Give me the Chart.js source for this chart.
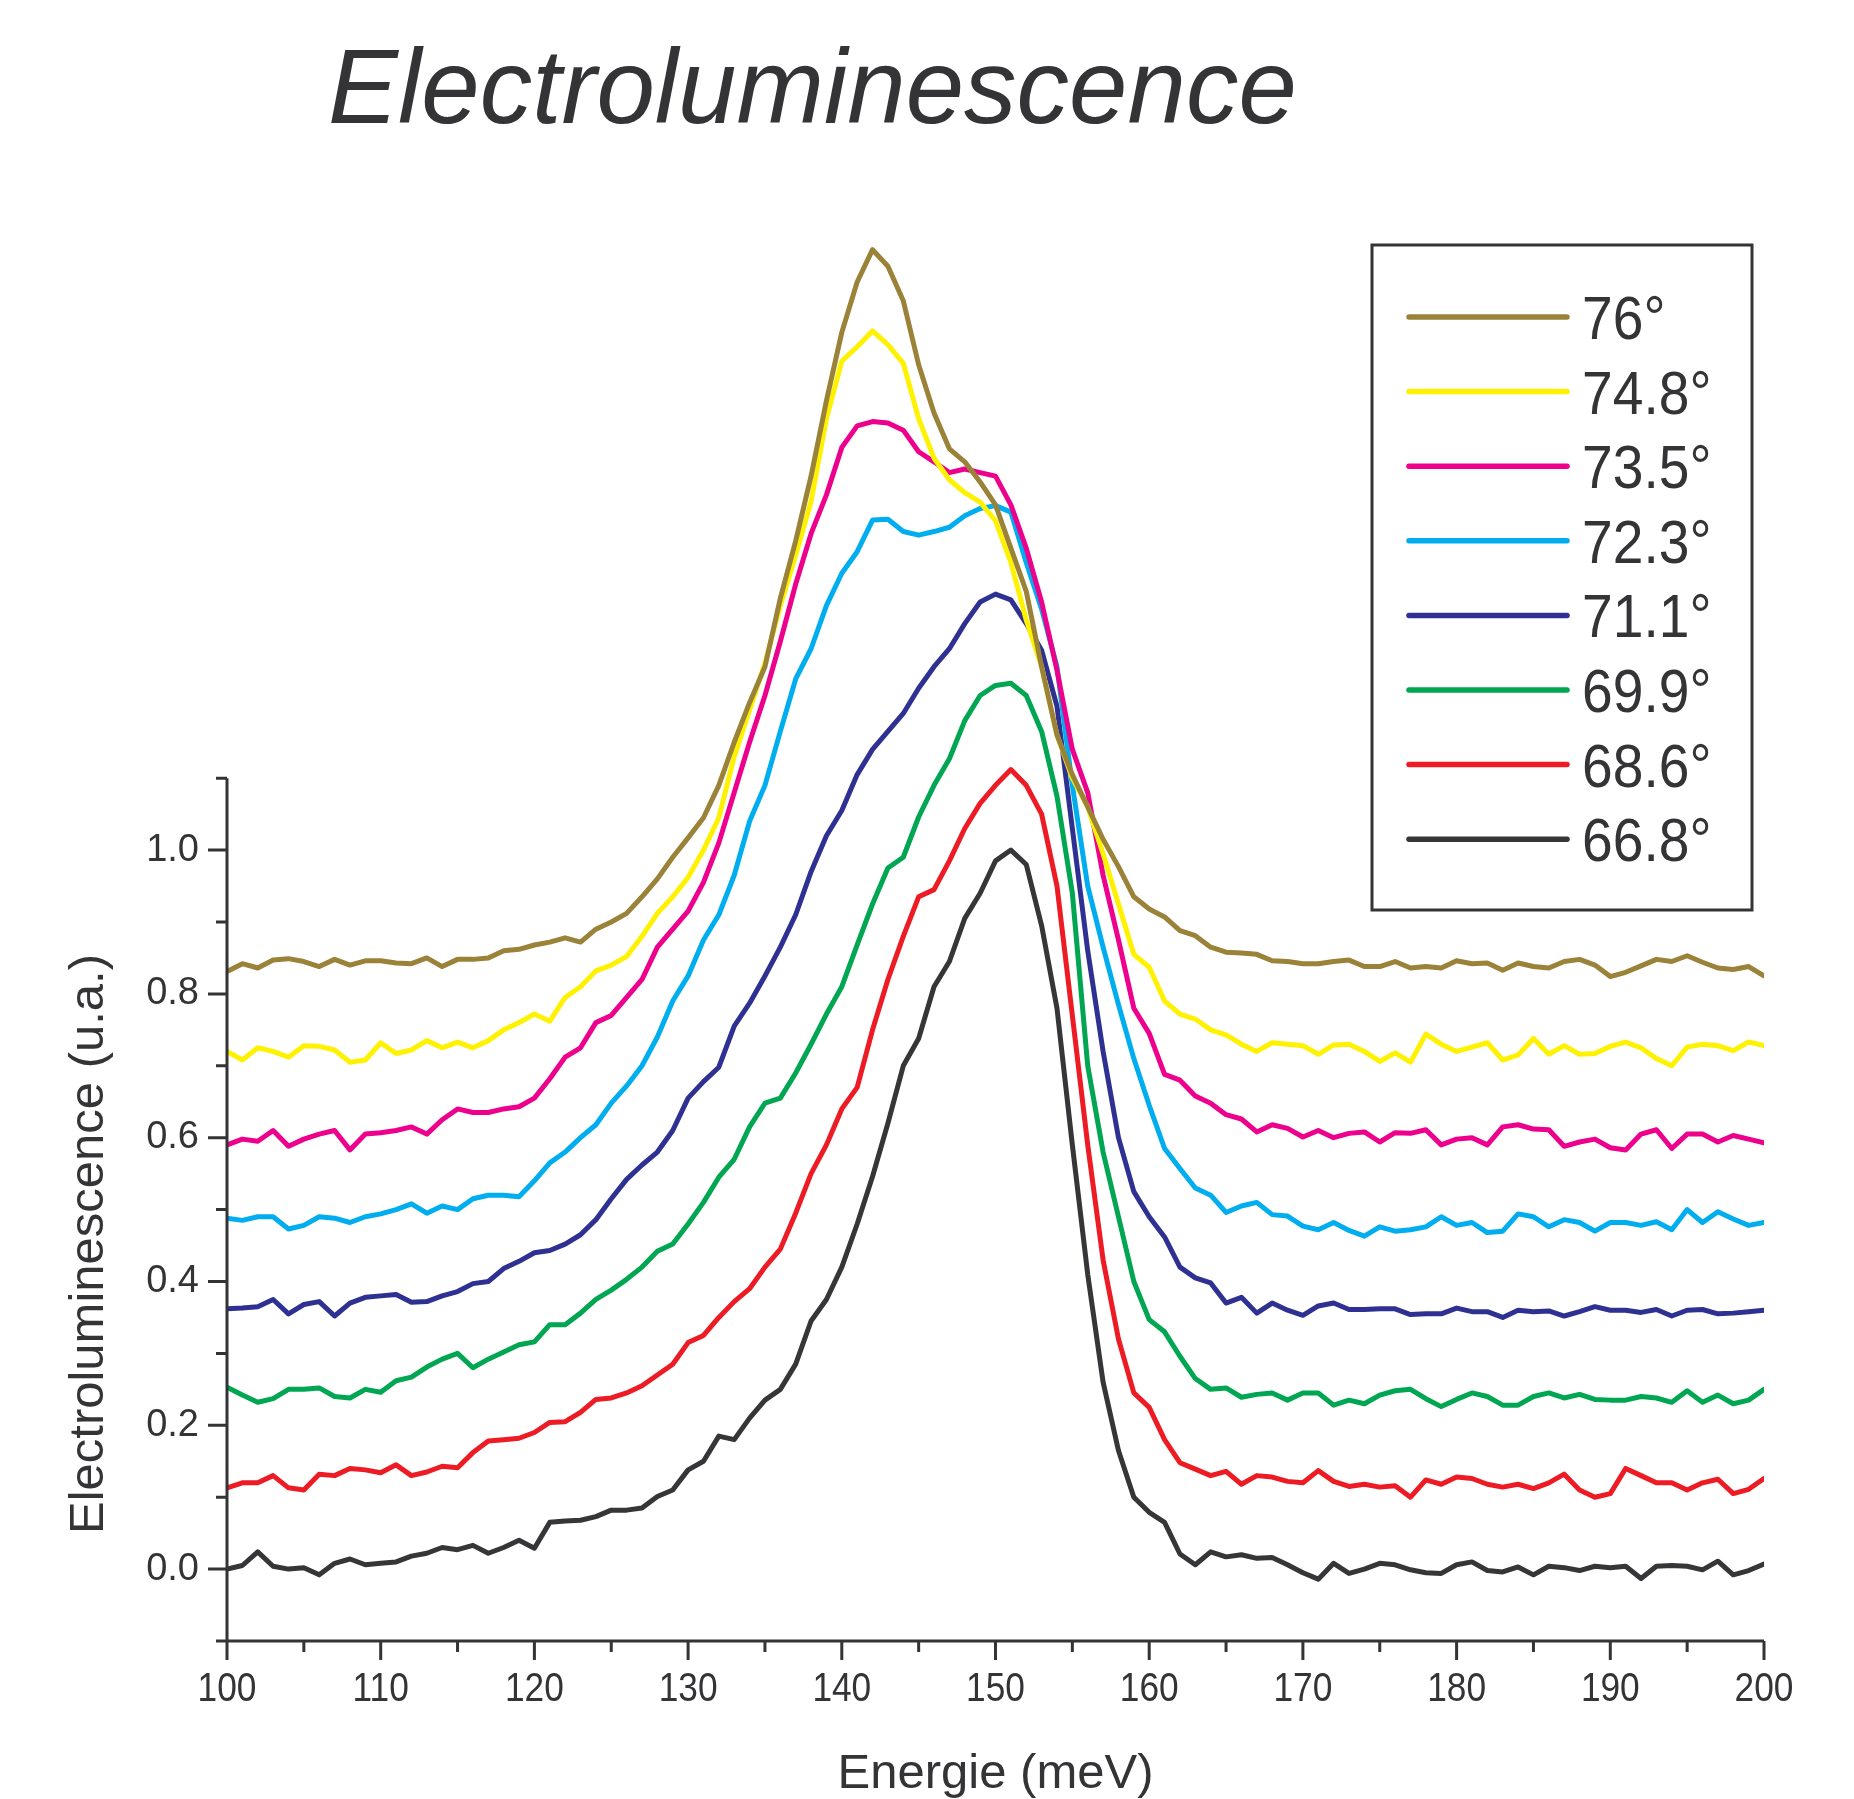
<!DOCTYPE html>
<html>
<head>
<meta charset="utf-8">
<title>Electroluminescence</title>
<script src="https://cdn.jsdelivr.net/npm/chart.js@4.4.0/dist/chart.umd.min.js"></script>
<style>
  body { margin: 0; background: #fff; overflow: hidden; }
  #wrap { width: 1854px; height: 1799px; }
</style>
</head>
<body>
<div id="wrap"><canvas id="elChart" width="1854" height="1799"></canvas></div>
<script>
// Energie (meV)
const energies = [100,101,102,103,104,105,106,107,108,109,110,111,112,113,114,115,116,117,118,119,
  120,121,122,123,124,125,126,127,128,129,130,131,132,133,134,135,136,137,138,139,
  140,141,142,143,144,145,146,147,148,149,150,151,152,153,154,155,156,157,158,159,
  160,161,162,163,164,165,166,167,168,169,170,171,172,173,174,175,176,177,178,179,
  180,181,182,183,184,185,186,187,188,189,190,191,192,193,194,195,196,197,198,199,200];

// Electroluminescence (u.a.) pour chaque angle
const el76 = [0.831,0.842,0.836,0.847,0.849,0.845,0.838,0.848,0.840,0.846,0.846,0.843,0.842,0.850,0.838,0.848,0.848,0.850,0.860,0.862,
  0.868,0.872,0.878,0.872,0.890,0.900,0.912,0.935,0.960,0.990,1.017,1.045,1.090,1.150,1.205,1.255,1.350,1.430,1.520,1.625,
  1.720,1.790,1.835,1.812,1.764,1.675,1.608,1.558,1.540,1.512,1.480,1.420,1.360,1.255,1.160,1.105,1.060,1.015,0.977,0.935,
  0.918,0.907,0.888,0.881,0.865,0.858,0.857,0.855,0.846,0.845,0.842,0.842,0.845,0.847,0.838,0.838,0.845,0.836,0.838,0.836,
  0.846,0.842,0.843,0.833,0.843,0.838,0.836,0.845,0.848,0.840,0.824,0.830,0.839,0.848,0.845,0.853,0.844,0.836,0.834,0.838,0.825];
const el748 = [0.720,0.708,0.725,0.720,0.712,0.728,0.727,0.722,0.705,0.708,0.732,0.717,0.722,0.735,0.725,0.733,0.725,0.735,0.750,0.760,
  0.772,0.762,0.795,0.810,0.832,0.840,0.852,0.880,0.912,0.935,0.962,1.000,1.045,1.130,1.195,1.260,1.340,1.410,1.485,1.600,
  1.680,1.700,1.722,1.703,1.677,1.600,1.545,1.515,1.497,1.484,1.458,1.400,1.320,1.255,1.160,1.100,1.060,0.995,0.925,0.855,
  0.837,0.790,0.772,0.765,0.750,0.743,0.730,0.720,0.732,0.730,0.728,0.716,0.729,0.730,0.720,0.706,0.718,0.705,0.744,0.730,
  0.720,0.726,0.732,0.708,0.715,0.738,0.716,0.728,0.716,0.717,0.727,0.733,0.725,0.710,0.700,0.726,0.730,0.728,0.721,0.733,0.728];
const el735 = [0.590,0.598,0.595,0.610,0.588,0.598,0.605,0.610,0.583,0.605,0.607,0.610,0.615,0.605,0.625,0.640,0.635,0.635,0.640,0.643,
  0.655,0.682,0.712,0.725,0.760,0.770,0.795,0.820,0.865,0.890,0.915,0.955,1.010,1.080,1.150,1.215,1.290,1.370,1.440,1.494,
  1.560,1.590,1.596,1.594,1.584,1.554,1.540,1.525,1.530,1.525,1.520,1.480,1.420,1.345,1.250,1.140,1.080,0.965,0.875,0.780,
  0.745,0.688,0.680,0.658,0.648,0.632,0.626,0.608,0.618,0.613,0.601,0.610,0.600,0.606,0.608,0.594,0.607,0.606,0.611,0.590,
  0.598,0.600,0.590,0.615,0.618,0.612,0.611,0.588,0.594,0.598,0.586,0.583,0.605,0.611,0.585,0.605,0.605,0.594,0.603,0.598,0.593];
const el723 = [0.488,0.485,0.490,0.490,0.473,0.478,0.490,0.488,0.482,0.490,0.494,0.500,0.508,0.495,0.505,0.500,0.515,0.520,0.520,0.518,
  0.540,0.565,0.580,0.600,0.618,0.648,0.672,0.700,0.740,0.790,0.825,0.875,0.910,0.965,1.040,1.090,1.165,1.238,1.280,1.340,
  1.385,1.415,1.459,1.460,1.443,1.438,1.443,1.449,1.465,1.475,1.479,1.470,1.400,1.335,1.255,1.090,0.950,0.865,0.785,0.710,
  0.645,0.585,0.557,0.530,0.520,0.496,0.505,0.510,0.493,0.491,0.477,0.472,0.482,0.471,0.463,0.476,0.470,0.472,0.476,0.490,
  0.478,0.482,0.468,0.470,0.494,0.490,0.476,0.486,0.482,0.470,0.482,0.482,0.478,0.483,0.472,0.500,0.482,0.497,0.487,0.478,0.482];
const el711 = [0.362,0.363,0.365,0.375,0.355,0.368,0.372,0.352,0.370,0.378,0.380,0.382,0.371,0.372,0.380,0.386,0.397,0.400,0.418,0.428,
  0.440,0.443,0.452,0.465,0.486,0.515,0.542,0.562,0.580,0.610,0.655,0.678,0.698,0.755,0.787,0.825,0.865,0.910,0.970,1.020,
  1.055,1.105,1.140,1.165,1.190,1.225,1.255,1.280,1.315,1.345,1.356,1.348,1.315,1.278,1.200,1.030,0.860,0.720,0.600,0.525,
  0.490,0.462,0.420,0.405,0.398,0.370,0.378,0.356,0.370,0.360,0.353,0.366,0.370,0.361,0.361,0.362,0.362,0.354,0.355,0.355,
  0.363,0.358,0.358,0.350,0.360,0.358,0.359,0.352,0.358,0.365,0.360,0.360,0.357,0.361,0.352,0.360,0.361,0.355,0.356,0.358,0.360];
const el699 = [0.253,0.242,0.232,0.237,0.250,0.250,0.252,0.240,0.238,0.250,0.246,0.262,0.267,0.281,0.292,0.300,0.280,0.292,0.302,0.312,
  0.316,0.340,0.340,0.356,0.375,0.388,0.403,0.420,0.442,0.452,0.480,0.510,0.545,0.570,0.615,0.648,0.655,0.690,0.730,0.772,
  0.810,0.868,0.925,0.975,0.990,1.046,1.090,1.127,1.180,1.215,1.229,1.232,1.215,1.165,1.075,0.940,0.700,0.580,0.490,0.400,
  0.347,0.330,0.296,0.265,0.250,0.252,0.239,0.243,0.245,0.235,0.245,0.245,0.228,0.235,0.230,0.242,0.248,0.250,0.237,0.226,
  0.236,0.245,0.240,0.228,0.228,0.240,0.245,0.238,0.243,0.236,0.235,0.235,0.240,0.238,0.232,0.248,0.232,0.242,0.230,0.235,0.250];
const el686 = [0.113,0.120,0.120,0.130,0.113,0.110,0.132,0.130,0.140,0.138,0.134,0.145,0.130,0.135,0.143,0.141,0.162,0.178,0.180,0.182,
  0.190,0.204,0.205,0.218,0.236,0.238,0.245,0.255,0.270,0.285,0.315,0.325,0.350,0.372,0.390,0.420,0.445,0.495,0.550,0.590,
  0.640,0.670,0.750,0.820,0.880,0.935,0.945,0.985,1.030,1.065,1.090,1.112,1.090,1.050,0.950,0.770,0.590,0.430,0.320,0.245,
  0.225,0.180,0.148,0.139,0.130,0.136,0.118,0.130,0.128,0.122,0.120,0.137,0.122,0.115,0.118,0.114,0.116,0.100,0.124,0.118,
  0.128,0.126,0.118,0.114,0.118,0.112,0.120,0.132,0.110,0.100,0.105,0.140,0.130,0.120,0.120,0.110,0.120,0.125,0.105,0.111,0.126];
const el668 = [0.000,0.005,0.024,0.004,0.000,0.002,-0.008,0.008,0.014,0.006,0.008,0.010,0.018,0.022,0.030,0.027,0.033,0.022,0.030,0.040,
  0.029,0.065,0.067,0.068,0.073,0.082,0.082,0.085,0.101,0.110,0.138,0.150,0.185,0.180,0.210,0.235,0.250,0.285,0.345,0.375,
  0.420,0.480,0.546,0.620,0.700,0.738,0.810,0.845,0.905,0.940,0.985,1.000,0.980,0.895,0.780,0.590,0.410,0.260,0.165,0.100,
  0.079,0.065,0.021,0.006,0.024,0.017,0.020,0.015,0.016,0.006,-0.005,-0.014,0.008,-0.006,0.000,0.008,0.006,-0.001,-0.005,-0.006,
  0.006,0.010,-0.002,-0.004,0.003,-0.008,0.004,0.002,-0.002,0.004,0.002,0.004,-0.013,0.004,0.005,0.004,-0.001,0.011,-0.008,-0.002,0.007];

const angleLabels = ['76°', '74.8°', '73.5°', '72.3°', '71.1°', '69.9°', '68.6°', '66.8°'];
const lineColors = ['#9a8239', '#fff200', '#ec008c', '#00aeef', '#2e3192', '#00a651', '#ed1c24', '#363639'];

// Graduations
const xMajorTicks = [100, 110, 120, 130, 140, 150, 160, 170, 180, 190, 200];
const xTickLabels = ['100', '110', '120', '130', '140', '150', '160', '170', '180', '190', '200'];
const xMinorTicks = [105, 115, 125, 135, 145, 155, 165, 175, 185, 195];
const yMajorTicks = [0, 0.2, 0.4, 0.6, 0.8, 1.0];
const yTickLabels = ['0.0', '0.2', '0.4', '0.6', '0.8', '1.0'];
const yMinorTicks = [-0.1, 0.1, 0.3, 0.5, 0.7, 0.9, 1.1];

const series = [el76, el748, el735, el723, el711, el699, el686, el668];
const ink = '#343437';
const sans = "'Liberation Sans', Arial, sans-serif";

const datasets = series.map((s, i) => ({
  label: angleLabels[i],
  data: energies.map((e, j) => ({ x: e, y: s[j] })),
  borderColor: lineColors[i],
  borderWidth: 5,
  pointRadius: 0,
  tension: 0,
  borderJoinStyle: 'round',
  borderCapStyle: 'round',
  fill: false
}));

// texte un peu condense (police etroite)
function narrowText(ctx, text, x, y, squeeze) {
  ctx.save();
  ctx.translate(x, y);
  ctx.scale(squeeze, 1);
  ctx.fillText(text, 0, 0);
  ctx.restore();
}

// Axes, titres et legende
const decor = {
  id: 'decor',
  afterDraw(chart) {
    const { ctx, scales: { x, y } } = chart;
    const xl = x.getPixelForValue(100), xr = x.getPixelForValue(200);
    const yb = y.getPixelForValue(-0.1), yt = y.getPixelForValue(1.1);
    ctx.save();
    ctx.strokeStyle = ink;
    ctx.lineWidth = 3;
    ctx.beginPath();
    ctx.moveTo(xl, yt); ctx.lineTo(xl, yb); ctx.lineTo(xr, yb);
    yMajorTicks.forEach(v => { const p = y.getPixelForValue(v); ctx.moveTo(xl, p); ctx.lineTo(xl - 19, p); });
    yMinorTicks.forEach(v => { const p = y.getPixelForValue(v); ctx.moveTo(xl, p); ctx.lineTo(xl - 11, p); });
    xMajorTicks.forEach(v => { const p = x.getPixelForValue(v); ctx.moveTo(p, yb); ctx.lineTo(p, yb + 19); });
    xMinorTicks.forEach(v => { const p = x.getPixelForValue(v); ctx.moveTo(p, yb); ctx.lineTo(p, yb + 11); });
    ctx.stroke();

    ctx.fillStyle = ink;
    ctx.textBaseline = 'alphabetic';
    ctx.textAlign = 'center';
    ctx.font = '41px ' + sans;
    xMajorTicks.forEach((v, i) => narrowText(ctx, xTickLabels[i], x.getPixelForValue(v), 1701, 0.86));

    ctx.textAlign = 'left';
    ctx.font = 'italic 105px ' + sans;
    ctx.fillText('Electroluminescence', 328, 123);

    ctx.font = '49px ' + sans;
    ctx.textAlign = 'center';
    ctx.fillText('Energie (meV)', (xl + xr) / 2, 1788);
    ctx.save();
    ctx.translate(103, 1244);
    ctx.rotate(-Math.PI / 2);
    ctx.fillText('Electroluminescence (u.a.)', 0, 0);
    ctx.restore();

    // legende
    ctx.lineWidth = 3;
    ctx.strokeRect(1372, 245, 380, 665);
    ctx.font = '62px ' + sans;
    ctx.textAlign = 'left';
    chart.data.datasets.forEach((ds, i) => {
      const ry = 317 + 74.6 * i;
      ctx.strokeStyle = ds.borderColor;
      ctx.lineWidth = 5.5;
      ctx.lineCap = 'round';
      ctx.beginPath();
      ctx.moveTo(1409, ry); ctx.lineTo(1567, ry);
      ctx.stroke();
      narrowText(ctx, ds.label, 1582, ry + 22, 0.89);
    });
    ctx.restore();
  }
};

new Chart(document.getElementById('elChart'), {
  type: 'line',
  data: { datasets },
  options: {
    responsive: false,
    animation: false,
    devicePixelRatio: 1,
    layout: { padding: { top: 167, right: 90, left: 0, bottom: 0 } },
    plugins: { legend: { display: false }, tooltip: { enabled: false } },
    scales: {
      x: {
        type: 'linear', min: 100, max: 200,
        afterBuildTicks: s => { s.ticks = xMajorTicks.map(v => ({ value: v })); },
        afterFit: s => { s.height = 158; },
        grid: { display: false, drawTicks: false },
        border: { display: false },
        ticks: { display: false }
      },
      y: {
        type: 'linear', min: -0.1, max: 1.95,
        afterBuildTicks: s => { s.ticks = yMajorTicks.map(v => ({ value: v })); },
        afterFit: s => { s.width = 227; },
        grid: { display: false, drawTicks: false },
        border: { display: false },
        ticks: { color: ink, font: { family: sans, size: 38 }, padding: 28, autoSkip: false,
          callback: (v, i) => yTickLabels[i] }
      }
    }
  },
  plugins: [decor]
});
</script>
</body>
</html>
